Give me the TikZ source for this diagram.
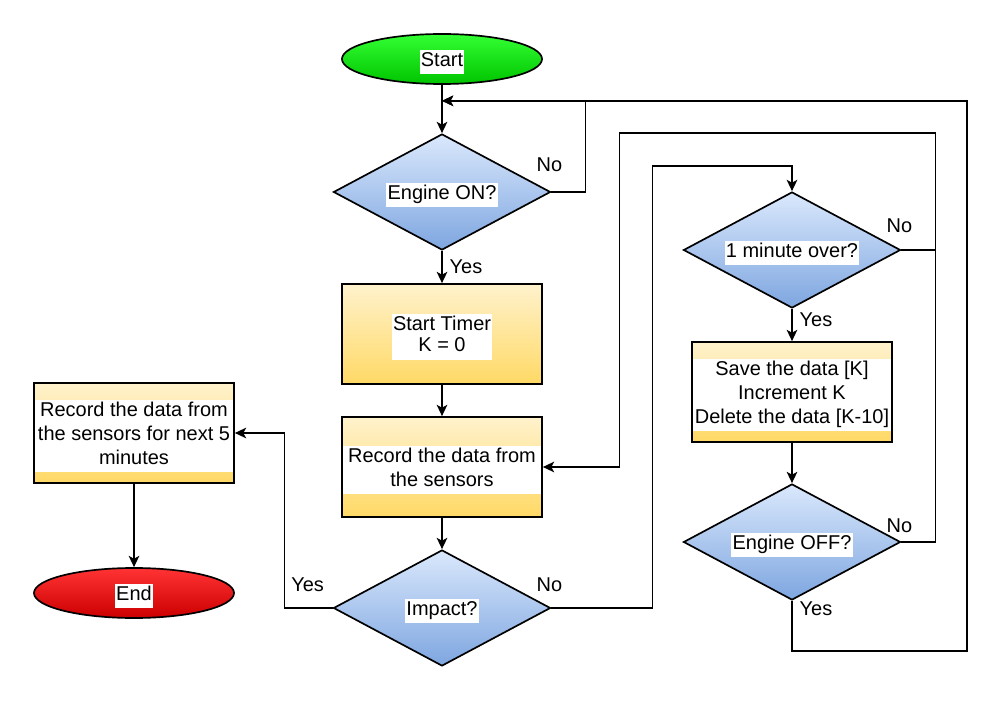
\documentclass[tikz,border=0pt]{standalone}
\usepackage{fontspec}
\setmainfont{Liberation Sans}
\usetikzlibrary{shapes.geometric,arrows.meta,calc}

\definecolor{greenT}{HTML}{33FF33}
\definecolor{greenB}{HTML}{00C400}
\definecolor{redT}{HTML}{FF3333}
\definecolor{redB}{HTML}{CC0000}
\definecolor{blueT}{HTML}{DAE8FC}
\definecolor{blueB}{HTML}{7EA6E0}
\definecolor{yellowT}{HTML}{FFF2CC}
\definecolor{yellowB}{HTML}{FFD966}

% fond blanc derriere les textes
\newcommand{\whitebg}[1]{\raisebox{-2pt}[\height][\depth]{\fboxsep=1pt\def\arraystretch{0.9}\colorbox{white}{\begin{tabular}{@{}c@{}}#1\end{tabular}}}}
\newcommand{\whiteband}[1]{\raisebox{-2pt}[\height][\depth]{\fboxsep=0pt\colorbox{white}{\parbox{141pt}{\centering\strut #1\strut}}}}

\tikzset{
  txt/.style={font=\fontsize{14.2}{17}\selectfont},
  base/.style={txt, draw, line width=1.2pt, inner sep=0pt},
  term/.style={base, ellipse, minimum width=5cm, minimum height=1.25cm},
  decision/.style={base, diamond, aspect=2, minimum width=5.425cm, minimum height=2.9cm,
    top color=blueT, bottom color=blueB},
  process/.style={base, rectangle, minimum width=5cm, minimum height=2.5cm,
    top color=yellowT, bottom color=yellowB},
  lbl/.style={txt, inner sep=0pt},
  line/.style={line width=1.2pt},
}

\begin{document}
\begin{tikzpicture}[x=0.025cm, y=-0.025cm, >={Stealth[length=8pt,width=7.5pt,inset=2pt]}]
  \useasboundingbox (0,0) rectangle (1002,702);

  % colonne centrale
  \node[term, top color=greenT, bottom color=greenB] (start) at (442,59) {\whitebg{Start}};
  \node[decision] (eon) at (442,192) {\whitebg{Engine ON?}};
  \node[process] (timer) at (442,334) {\whitebg{Start Timer\\K = 0}};
  \node[process] (rec) at (442,467) {\whiteband{Record the data from\\the sensors}};
  \node[decision] (imp) at (442,608) {\whitebg{Impact?}};

  % colonne gauche
  \node[process] (rec5) at (134,433) {\whiteband{Record the data from\\the sensors for next 5\\minutes}};
  \node[term, top color=redT, bottom color=redB] (end) at (134,593) {\whitebg{End}};

  % colonne droite
  \node[decision] (min) at (792,250) {\whitebg{1 minute over?}};
  \node[process] (save) at (792,392) {\whiteband{Save the data [K]\\Increment K\\Delete the data [K-10]}};
  \node[decision] (eoff) at (792,542) {\whitebg{Engine OFF?}};

  \coordinate (merge) at ($(start.south)+(0,16)$);

  % fleches directes
  \draw[line,->] (start) -- (eon);
  \draw[line,->] (eon) -- (timer);
  \draw[line,->] (timer) -- (rec);
  \draw[line,->] (rec) -- (imp);
  \draw[line,->] (rec5) -- (end);
  \draw[line,->] (min) -- (save);
  \draw[line,->] (save) -- (eoff);

  % boucles
  \draw[line,->] (eon.east) -- ++(34,0) |- (merge);
  \draw[line,->] (eoff.south) -- ++(0,50) -- ++(175,0) |- (merge);
  \draw[line,->] (imp.west) -- ++(-48,0) |- (rec5.east);
  \draw[line,->] (imp.east) -- ++(101,0) |- ($(min.north)+(0,-25)$) -- (min.north);
  \draw[line,->] (min.east) -- ++(34,0) coordinate (minr) -- ++(0,-117) -- ++(-316,0) |- (rec.east);
  \draw[line] (eoff.east) -| (minr);

  % etiquettes
  \node[lbl] (noEon) at ($(eon.east)+(-2,-27)$) {No};
  \node[lbl] (yesEon) at ($(eon.south)+(24,16)$) {Yes};
  \node[lbl] (yesImp) at ($(imp.west)+(-25,-23)$) {Yes};
  \node[lbl] (noImp) at ($(imp.east)+(-2,-23)$) {No};
  \node[lbl] (noMin) at ($(min.east)+(-2,-24)$) {No};
  \node[lbl] (yesMin) at ($(min.south)+(24,11)$) {Yes};
  \node[lbl] (noOff) at ($(eoff.east)+(-2,-16)$) {No};
  \node[lbl] (yesOff) at ($(eoff.south)+(24,8)$) {Yes};
\end{tikzpicture}
\end{document}
